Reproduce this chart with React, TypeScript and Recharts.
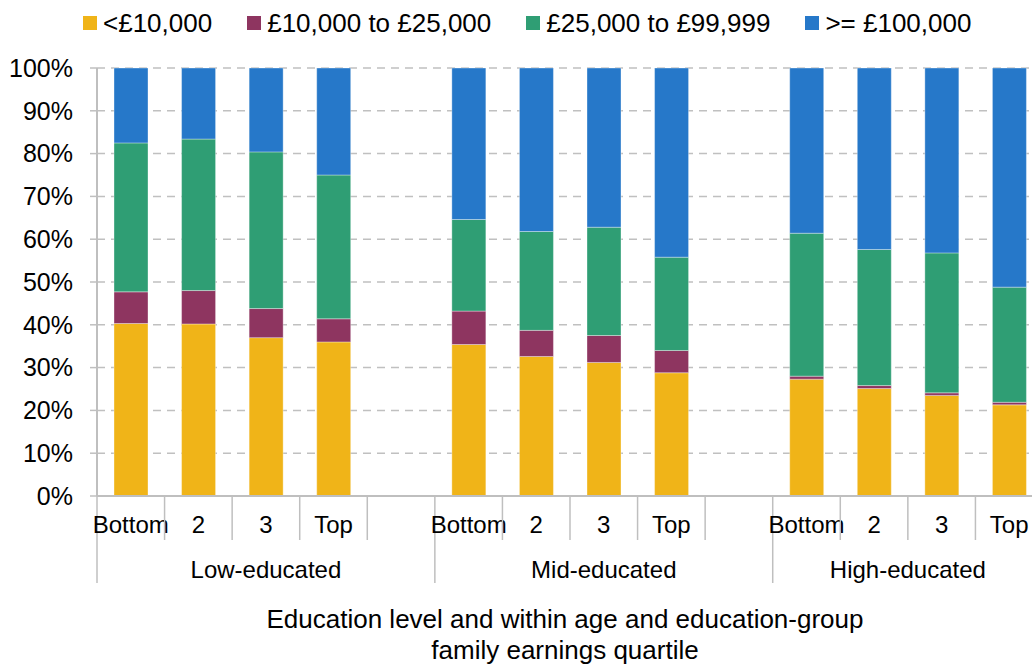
import React from 'react';
import { BarChart, Bar, XAxis, YAxis, CartesianGrid, Legend } from 'recharts';

const groups = ['Low-educated', 'Mid-educated', 'High-educated'];
const quartiles = ['Bottom', '2', '3', 'Top'];
const seriesNames = ['<£10,000', '£10,000 to £25,000', '£25,000 to £99,999', '>= £100,000'];
const seriesColors = ['#F0B418', '#8E3560', '#2F9E74', '#2678C9'];
const under10k = [40.3, 40.2, 37.0, 36.0, 35.4, 32.6, 31.2, 28.8, 27.3, 25.1, 23.5, 21.3];
const from10to25k = [7.4, 7.8, 6.8, 5.4, 7.8, 6.1, 6.3, 5.2, 0.7, 0.7, 0.6, 0.6];
const from25to99k = [34.8, 35.4, 36.6, 33.6, 21.4, 23.1, 25.3, 21.8, 33.4, 31.8, 32.7, 26.9];
const over100k = [17.5, 16.6, 19.6, 25.0, 35.4, 38.2, 37.2, 44.2, 38.6, 42.4, 43.2, 51.2];
const yTicks = [0, 10, 20, 30, 40, 50, 60, 70, 80, 90, 100];

const seriesValues = [under10k, from10to25k, from25to99k, over100k];

type Row = { key: string; label: string; group: string; groupStart: boolean; groupSlots: number; [k: string]: any };

const data: Row[] = [];
groups.forEach((g, gi) => {
  const isLast = gi === groups.length - 1;
  const slots = quartiles.length + (isLast ? 0 : 1);
  quartiles.forEach((q, qi) => {
    const i = gi * quartiles.length + qi;
    const row: Row = { key: `${g}-${q}`, label: q, group: g, groupStart: qi === 0, groupSlots: slots };
    seriesValues.forEach((arr, si) => {
      row[`s${si}`] = arr[i];
    });
    data.push(row);
  });
  if (!isLast) {
    data.push({ key: `${g}-gap`, label: '', group: g, groupStart: false, groupSlots: 0 });
  }
});

const FONT = '"Liberation Sans", Arial, sans-serif';
const CHART_W = 1048;
const CHART_H = 665;
const Y_W = 97;
const M_RIGHT = 5;
const SLOT = (CHART_W - Y_W - M_RIGHT) / data.length;
const AXIS_GRAY = '#BFBFBF';

const XTick = (props: any) => {
  const { x, y, index } = props;
  const row = data[index];
  if (!row) return null;
  const left = x - SLOT / 2;
  return (
    <g>
      <line x1={left} x2={left} y1={y} y2={y + (row.groupStart ? 87 : 44)} stroke={AXIS_GRAY} strokeWidth={1.5} />
      {row.label && (
        <text x={x} y={y + 28} textAnchor="middle" dominantBaseline="central" fontSize={24} fontFamily={FONT} fill="#000">
          {row.label}
        </text>
      )}
      {row.groupStart && (
        <text x={left + (row.groupSlots * SLOT) / 2} y={y + 73} textAnchor="middle" dominantBaseline="central" fontSize={24} fontFamily={FONT} fill="#000">
          {row.group}
        </text>
      )}
    </g>
  );
};

const AxisTitle = (props: any) => {
  const vb = props.viewBox || { x: Y_W, y: 496, width: 946, height: 169 };
  const cx = vb.x + vb.width / 2 - 5;
  return (
    <g>
      <text x={cx} y={628} textAnchor="middle" fontSize={26} fontFamily={FONT} fill="#000">
        Education level and within age and education-group
      </text>
      <text x={cx} y={659} textAnchor="middle" fontSize={26} fontFamily={FONT} fill="#000">
        family earnings quartile
      </text>
    </g>
  );
};

const LegendContent = () => (
  <div style={{ display: 'flex', alignItems: 'center', paddingLeft: 83, paddingTop: 6, height: 40, boxSizing: 'border-box', fontFamily: FONT, fontSize: 26, color: '#000', lineHeight: '30px' }}>
    {seriesNames.map((n, i) => (
      <div key={n} style={{ display: 'flex', alignItems: 'center', marginRight: 35 }}>
        <span style={{ display: 'inline-block', width: 14, height: 14, background: seriesColors[i], marginRight: 6 }} />
        <span style={{ whiteSpace: 'nowrap' }}>{n}</span>
      </div>
    ))}
  </div>
);

export default function App() {
  return (
    <div style={{ position: 'absolute', left: 0, top: 0, width: 1032, height: 665, overflow: 'hidden', background: '#fff' }}>
      <BarChart width={CHART_W} height={CHART_H} data={data} margin={{ top: 28, right: M_RIGHT, left: 0, bottom: 0 }}>
        <Legend verticalAlign="top" align="left" wrapperStyle={{ top: 0, left: 0, width: CHART_W, height: 40 }} content={<LegendContent />} />
        <CartesianGrid vertical={false} stroke="#C0C0C0" strokeWidth={1.5} strokeDasharray="8 6" />
        <XAxis
          dataKey="key"
          interval={0}
          tickLine={false}
          tickSize={0}
          tickMargin={0}
          height={169}
          axisLine={{ stroke: AXIS_GRAY, strokeWidth: 2 }}
          tick={<XTick />}
          label={<AxisTitle />}
        />
        <YAxis
          domain={[0, 100]}
          ticks={yTicks}
          width={Y_W}
          tickFormatter={(v: number) => `${v}%`}
          axisLine={{ stroke: AXIS_GRAY, strokeWidth: 2 }}
          tickLine={{ stroke: AXIS_GRAY, strokeWidth: 1.5 }}
          tickSize={7}
          tickMargin={17}
          tick={{ fill: '#000', fontSize: 25, fontFamily: FONT }}
        />
        {seriesNames.map((n, i) => (
          <Bar
            key={n}
            dataKey={`s${i}`}
            name={n}
            stackId="a"
            fill={seriesColors[i]}
            stroke="rgba(255,255,255,0.35)"
            strokeWidth={1}
            barSize={34}
            isAnimationActive={false}
          />
        ))}
      </BarChart>
    </div>
  );
}
